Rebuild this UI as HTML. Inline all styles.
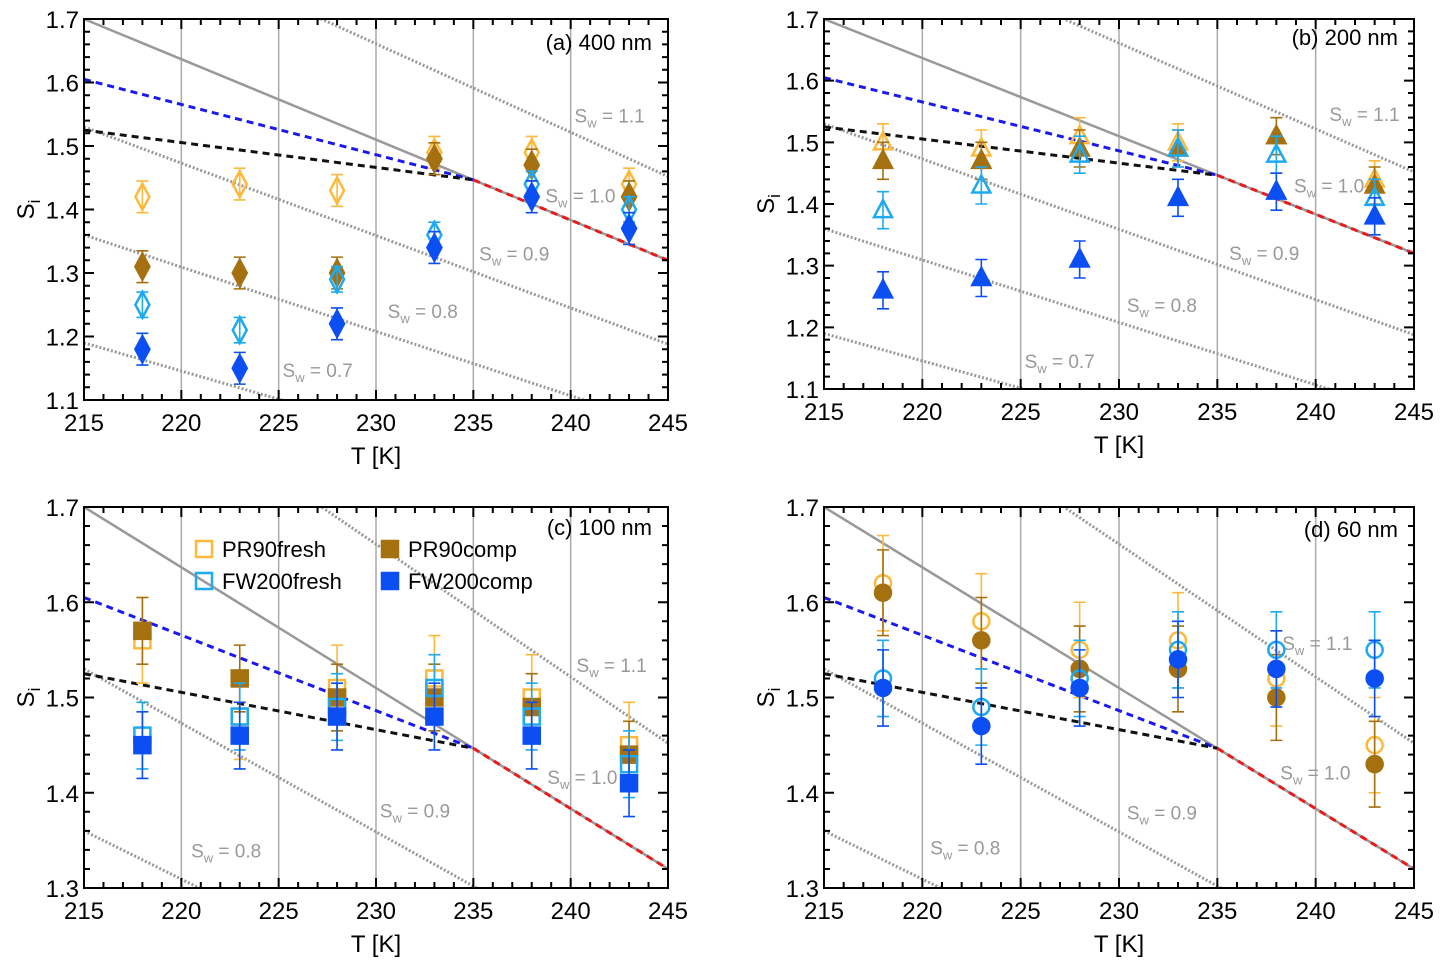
<!DOCTYPE html>
<html><head><meta charset="utf-8"><style>
html,body{margin:0;background:#fff;overflow:hidden;width:1449px;height:972px;}
svg{display:block;font-family:"Liberation Sans",Arial,sans-serif;}
</style></head><body>
<svg id="chart" width="1449" height="972" viewBox="0 0 1449 972" xmlns="http://www.w3.org/2000/svg"></svg>
<script>
const temps = [218, 223, 228, 233, 238, 243];
// panel a (400 nm) diamonds
const aPR90fresh = [1.42, 1.44, 1.43, 1.49, 1.49, 1.44];
const aPR90comp  = [1.31, 1.30, 1.30, 1.48, 1.47, 1.42];
const aFW200fresh= [1.25, 1.21, 1.29, 1.36, 1.44, 1.40];
const aFW200comp = [1.18, 1.15, 1.22, 1.34, 1.42, 1.37];
// panel b (200 nm) triangles
const bPR90fresh = [1.50, 1.49, 1.51, 1.50, 1.51, 1.44];
const bPR90comp  = [1.47, 1.47, 1.49, 1.49, 1.51, 1.43];
const bFW200fresh= [1.39, 1.43, 1.48, 1.49, 1.48, 1.41];
const bFW200comp = [1.26, 1.28, 1.31, 1.41, 1.42, 1.38];
// panel c (100 nm) squares
const cPR90fresh = [1.56, 1.48, 1.51, 1.52, 1.50, 1.45];
const cPR90comp  = [1.57, 1.52, 1.50, 1.50, 1.49, 1.44];
const cFW200fresh= [1.46, 1.48, 1.49, 1.51, 1.48, 1.43];
const cFW200comp = [1.45, 1.46, 1.48, 1.48, 1.46, 1.41];
// panel d (60 nm) circles
const dPR90fresh = [1.62, 1.58, 1.55, 1.56, 1.52, 1.45];
const dPR90comp  = [1.61, 1.56, 1.53, 1.53, 1.50, 1.43];
const dFW200fresh= [1.52, 1.49, 1.52, 1.55, 1.55, 1.55];
const dFW200comp = [1.51, 1.47, 1.51, 1.54, 1.53, 1.52];
const errA = [0.025, 0.025, 0.02, 0.025];
const errB = [0.03, 0.03, 0.03, 0.03];
const errC = [0.045, 0.035, 0.035, 0.035];
const errD = [0.05, 0.045, 0.04, 0.04];
const swLevels = [0.7, 0.8, 0.9, 1.1];
const xTicks = [215, 220, 225, 230, 235, 240, 245];
const yTicksAB = [1.1, 1.2, 1.3, 1.4, 1.5, 1.6, 1.7];
const yTicksCD = [1.3, 1.4, 1.5, 1.6, 1.7];
const seriesNames = ['PR90fresh', 'PR90comp', 'FW200fresh', 'FW200comp'];
const colors = ['#fdb93c', '#a5700f', '#1eaaf0', '#0b4ff2'];
const filled = [false, true, false, true];

function siw(T){ return 1.7 - 0.012667*(T-215); }
const NS='http://www.w3.org/2000/svg';
const svg=document.getElementById('chart');
function el(tag, attrs, parent){
  const e=document.createElementNS(NS,tag);
  for(const k in attrs) e.setAttribute(k,attrs[k]);
  (parent||svg).appendChild(e); return e;
}

const panels=[
 {id:'a',x0:84,x1:668,y0:19,y1:400,ymin:1.1,ymax:1.7,yt:yTicksAB,data:[aPR90fresh,aPR90comp,aFW200fresh,aFW200comp],err:errA,marker:'diamond',title:'(a) 400 nm',ty:50,
  sw:[[225.2,1.136,'0.7'],[230.6,1.229,'0.8'],[235.3,1.320,'0.9'],[238.7,1.411,'1.0'],[240.2,1.537,'1.1']]},
 {id:'b',x0:824,x1:1414,y0:19,y1:389,ymin:1.1,ymax:1.7,yt:yTicksAB,data:[bPR90fresh,bPR90comp,bFW200fresh,bFW200comp],err:errB,marker:'triangle',title:'(b) 200 nm',ty:45,
  sw:[[225.2,1.134,'0.7'],[230.4,1.225,'0.8'],[235.6,1.309,'0.9'],[238.9,1.419,'1.0'],[240.7,1.535,'1.1']]},
 {id:'c',x0:84,x1:668,y0:507,y1:888,ymin:1.3,ymax:1.7,yt:yTicksCD,data:[cPR90fresh,cPR90comp,cFW200fresh,cFW200comp],err:errC,marker:'square',title:'(c) 100 nm',ty:535,legend:true,
  sw:[[220.5,1.332,'0.8'],[230.2,1.374,'0.9'],[238.8,1.409,'1.0'],[240.3,1.527,'1.1']]},
 {id:'d',x0:824,x1:1414,y0:507,y1:888,ymin:1.3,ymax:1.7,yt:yTicksCD,data:[dPR90fresh,dPR90comp,dFW200fresh,dFW200comp],err:errD,marker:'circle',title:'(d) 60 nm',ty:537,
  sw:[[220.4,1.335,'0.8'],[230.4,1.372,'0.9'],[238.2,1.414,'1.0'],[238.3,1.550,'1.1']]}
];

function drawMarker(g,type,cx,cy,col,fill,name){
  let m;
  if(type==='diamond') m=el('polygon',{points:`${cx},${cy-13} ${cx+7},${cy} ${cx},${cy+13} ${cx-7},${cy}`,fill:fill?col:'none',stroke:col,'stroke-width':2.5},g);
  else if(type==='triangle') m=el('polygon',{points:`${cx},${cy-10} ${cx+9},${cy+7} ${cx-9},${cy+7}`,fill:fill?col:'none',stroke:col,'stroke-width':2.5},g);
  else if(type==='square') m=el('rect',{x:cx-8,y:cy-8,width:16,height:16,fill:fill?col:'none',stroke:col,'stroke-width':2.5},g);
  else m=el('circle',{cx:cx,cy:cy,r:8,fill:fill?col:'none',stroke:col,'stroke-width':2.5},g);
  
  
  return m;
}

panels.forEach(p=>{
  const g=el('g',{});
  
  
  const sx=T=>p.x0+(T-215)/30*(p.x1-p.x0);
  const sy=v=>p.y1-(v-p.ymin)/(p.ymax-p.ymin)*(p.y1-p.y0);
  const cid='clip'+p.id;
  const defs=el('defs',{},g);
  el('rect',{x:p.x0,y:p.y0,width:p.x1-p.x0,height:p.y1-p.y0},el('clipPath',{id:cid},defs));
  const pg=el('g',{'clip-path':`url(#${cid})`},g);
  xTicks.slice(1,-1).forEach(t=>{
    const l=el('line',{x1:sx(t),x2:sx(t),y1:p.y0,y2:p.y1,stroke:'#aaa','stroke-width':1.5},pg);
     
  });
  swLevels.forEach(s=>{
    const l=el('line',{x1:sx(215),y1:sy(s*siw(215)),x2:sx(245),y2:sy(s*siw(245)),stroke:'#999','stroke-width':3,'stroke-dasharray':'2 2'},pg);
     
  });
  const gl=el('line',{x1:sx(215),y1:sy(siw(215)),x2:sx(245),y2:sy(siw(245)),stroke:'#999','stroke-width':2.5},pg);
   
  const bl=el('line',{x1:sx(215),y1:sy(1.605),x2:sx(235),y2:sy(siw(235)),stroke:'#1a1aee','stroke-width':3,'stroke-dasharray':'7 5'},pg);
   
  const kl=el('line',{x1:sx(215),y1:sy(1.525),x2:sx(235),y2:sy(siw(235)),stroke:'#111','stroke-width':3,'stroke-dasharray':'7 5'},pg);
   
  const rl=el('line',{x1:sx(235),y1:sy(siw(235)),x2:sx(245),y2:sy(siw(245)),stroke:'#e81c1c','stroke-width':3,'stroke-dasharray':'7 5'},pg);
   
  p.sw.forEach(s=>{
    const t=el('text',{x:sx(s[0]),y:sy(s[1]),fill:'#999','font-size':19},g);
     
    t.innerHTML='S<tspan font-size="13" dy="5">w</tspan><tspan dy="-5"> = '+s[2]+'</tspan>';
  });
  p.data.forEach((arr,si)=>{
    arr.forEach((v,i)=>{
      const cx=sx(temps[i]), cy=sy(v), e=p.err[si];
      const eb=el('path',{d:`M${cx},${sy(v+e)}V${sy(v-e)}M${cx-6},${sy(v+e)}H${cx+6}M${cx-6},${sy(v-e)}H${cx+6}`,stroke:colors[si],'stroke-width':1.6,fill:'none'},g);
       
      drawMarker(g,p.marker,cx,cy,colors[si],filled[si],'point-'+seriesNames[si]);
    });
  });
  const fr=el('rect',{x:p.x0,y:p.y0,width:p.x1-p.x0,height:p.y1-p.y0,fill:'none',stroke:'#000','stroke-width':2},g);
   
  let d='';
  for(let T=215;T<=245;T++){const maj=T%5===0,L=maj?10:6,x=sx(T);d+=`M${x},${p.y1}v${-L}M${x},${p.y0}v${L}`;}
  for(let k=0;k<=Math.round((p.ymax-p.ymin)/0.02);k++){const v=p.ymin+k*0.02,maj=k%5===0,L=maj?10:6,y=sy(v);d+=`M${p.x0},${y}h${L}M${p.x1},${y}h${-L}`;}
  const tk=el('path',{d:d,stroke:'#000','stroke-width':2,fill:'none'},g);
   
  xTicks.forEach(t=>{const e=el('text',{x:sx(t),y:p.y1+31,'font-size':24,'text-anchor':'middle'},g);e.textContent=t;
     });
  p.yt.forEach(t=>{const e=el('text',{x:p.x0-5,y:sy(t)+9,'font-size':24,'text-anchor':'end'},g);e.textContent=t.toFixed(1);
     });
  const xt=el('text',{x:(p.x0+p.x1)/2,y:p.y1+64,'font-size':24,'text-anchor':'middle'},g);xt.textContent='T [K]';
   
  const yc=(p.y0+p.y1)/2;
  const yt=el('text',{x:p.x0-50,y:yc,'font-size':24,'text-anchor':'middle',transform:`rotate(-90 ${p.x0-50} ${yc})`},g);
  yt.innerHTML='S<tspan font-size="17" dy="6">i</tspan>';
   
  const tt=el('text',{x:p.x1-16,y:p.ty,'font-size':22,'text-anchor':'end'},g);tt.textContent=p.title;
   
  if(p.legend){
    const lp=[[204,549],[390,549],[204,581],[390,581]];
    [0,1,2,3].forEach((si,k)=>{
      const lg=el('g',{},g);
       
      drawMarker(lg,'square',lp[k][0],lp[k][1],colors[si],filled[si],'legend-marker');
      const t=el('text',{x:lp[k][0]+18,y:lp[k][1]+8,'font-size':22},lg);t.textContent=seriesNames[si];
       
    });
  }
});
</script>
</body></html>
